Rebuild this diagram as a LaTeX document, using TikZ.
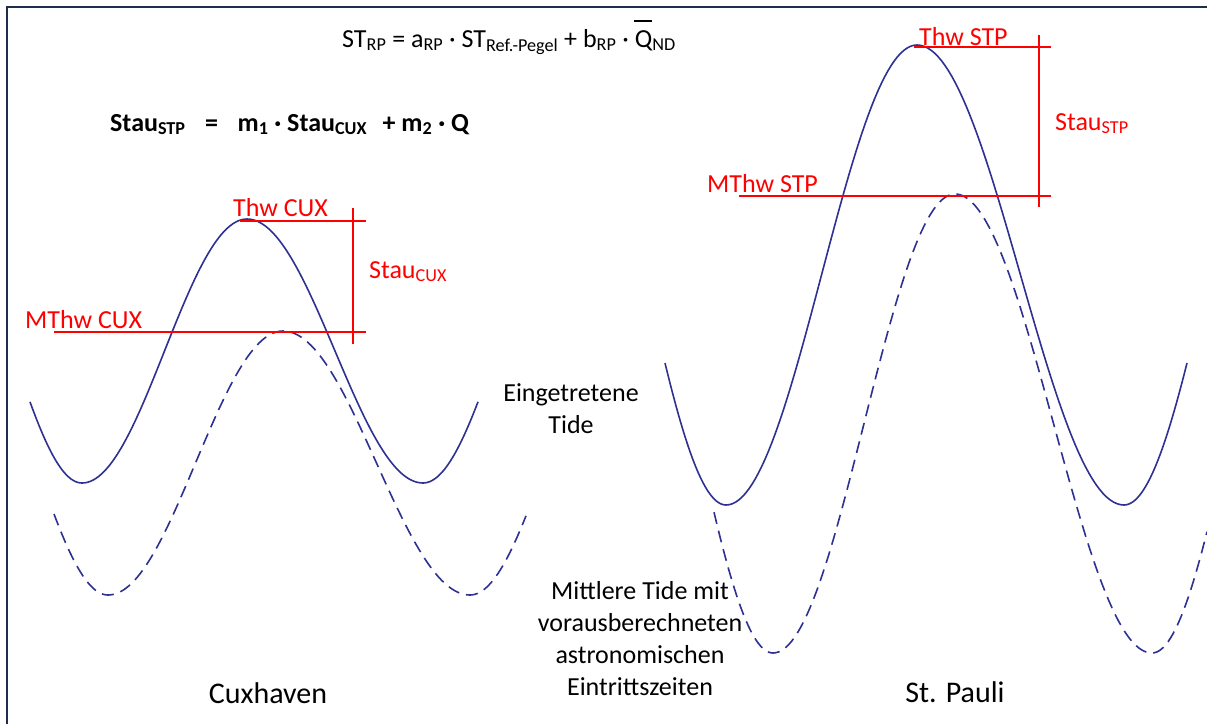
\documentclass[tikz,border=0pt]{standalone}
\usepackage{fontspec}
\setmainfont{Carlito}
\definecolor{tideblue}{RGB}{46,49,146}
\definecolor{tidered}{RGB}{255,0,0}
\definecolor{framecol}{RGB}{31,45,77}
\tikzset{
  tide/.style={draw=tideblue, line width=1.6pt},
  tidedash/.style={tide, dash pattern=on 12pt off 7pt},
  redline/.style={draw=tidered, line width=2pt},
  redlabel/.style={text=tidered, inner sep=0pt, anchor=base west, font=\fontsize{26}{31}\selectfont},
  formula/.style={inner sep=0pt, anchor=base west, font=\fontsize{26}{31}\selectfont},
  caption/.style={inner sep=0pt, align=center, font=\fontsize{26}{32}\selectfont},
  place/.style={inner sep=0pt, font=\fontsize{30}{36}\selectfont},
  framestyle/.style={draw=framecol, line width=1.5pt}
}
\newcommand\qbar{\rlap{\hspace{-0.02em}\raisebox{0.97em}{\rule{0.7em}{1.4pt}}}Q}
\begin{document}
\begin{tikzpicture}[x=1pt,y=-1pt]
\useasboundingbox (0,0) rectangle (1207,724);
\fill[white] (0,0) rectangle (1207,724);
\draw[framestyle] (7,724) -- (7,7) -- (1207,7);

% formulas
\node[formula] (f1) at (342,47) {ST\textsubscript{RP} = a\textsubscript{RP} · ST\textsubscript{Ref.-Pegel} + b\textsubscript{RP} · \qbar\textsubscript{ND}};
\node[formula] (f2) at (110,131) {\bfseries Stau\textsubscript{STP}\hspace{0.75em}=\hspace{0.75em}m\textsubscript{1} · Stau\textsubscript{CUX}\hspace{0.6em}+ m\textsubscript{2} · Q};

% Cuxhaven curves
\draw[tide] plot[domain=30:82,samples=25] (\x,{351+132*cos((\x-82)/139*180)})
 -- plot[domain=82:247,samples=60] (\x,{351+132*cos((\x-82)/165*180)})
 -- plot[domain=247:423,samples=60] (\x,{351-132*cos((\x-247)/176*180)})
 -- plot[domain=423:478,samples=25] (\x,{351+132*cos((\x-423)/147*180)});
\draw[tidedash] plot[domain=54:108,samples=25] (\x,{463+132*cos((\x-108)/144.5*180)})
 -- plot[domain=108:283,samples=60] (\x,{463+132*cos((\x-108)/175*180)})
 -- plot[domain=283:470,samples=60] (\x,{463-132*cos((\x-283)/187*180)})
 -- plot[domain=470:526,samples=25] (\x,{463+132*cos((\x-470)/151.8*180)});

% St. Pauli curves
\draw[tide] plot[domain=665:726,samples=25] (\x,{275+230*cos((\x-726)/162.7*180)})
 -- plot[domain=726:917,samples=60] (\x,{275+230*cos((\x-726)/191*180)})
 -- plot[domain=917:1124,samples=60] (\x,{275-230*cos((\x-917)/207*180)})
 -- plot[domain=1124:1187,samples=25] (\x,{275+230*cos((\x-1124)/168*180)});
\draw[tidedash] plot[domain=714:773,samples=25] (\x,{423.5+229.5*cos((\x-773)/157.9*180)})
 -- plot[domain=773:955,samples=60] (\x,{423.5+229.5*cos((\x-773)/182*180)})
 -- plot[domain=955:1152,samples=60] (\x,{423.5-229.5*cos((\x-955)/197*180)})
 -- plot[domain=1152:1207,samples=25] (\x,{423.5+229.5*cos((\x-1152)/160*180)});

% red markers Cuxhaven
\coordinate (cthwA) at (240,220.5);
\coordinate (cthwB) at (366,220.5);
\coordinate (cmthwA) at (54,331.5);
\coordinate (cmthwB) at (366,331.5);
\coordinate (cvA) at (353,208);
\coordinate (cvB) at (353,344);
\draw[redline] (cthwA) -- (cthwB);
\draw[redline] (cmthwA) -- (cmthwB);
\draw[redline] (cvA) -- (cvB);
\node[redlabel] (thwcux) at (233,216) {Thw CUX};
\node[redlabel] (mthwcux) at (25,328) {MThw CUX};
\node[redlabel] (staucux) at (369,278) {Stau\textsubscript{CUX}};

% red markers St. Pauli
\coordinate (sthwA) at (914,46.5);
\coordinate (sthwB) at (1051,46.5);
\coordinate (smthwA) at (739,195.5);
\coordinate (smthwB) at (1051,195.5);
\coordinate (svA) at (1039,35);
\coordinate (svB) at (1039,207);
\draw[redline] (sthwA) -- (sthwB);
\draw[redline] (smthwA) -- (smthwB);
\draw[redline] (svA) -- (svB);
\node[redlabel] (thwstp) at (919,45) {Thw STP};
\node[redlabel] (mthwstp) at (707,192) {MThw STP};
\node[redlabel] (staustp) at (1055,130) {Stau\textsubscript{STP}};

% captions
\node[caption] (eing) at (571,408.5) {Eingetretene\\Tide};
\node[caption] (mittl) at (640,639) {Mittlere Tide mit\\vorausberechneten\\astronomischen\\Eintrittszeiten};
\node[place] (cux) at (268,693) {Cuxhaven};
\node[place] (stp) at (955,692) {St. Pauli};
\end{tikzpicture}
\end{document}
